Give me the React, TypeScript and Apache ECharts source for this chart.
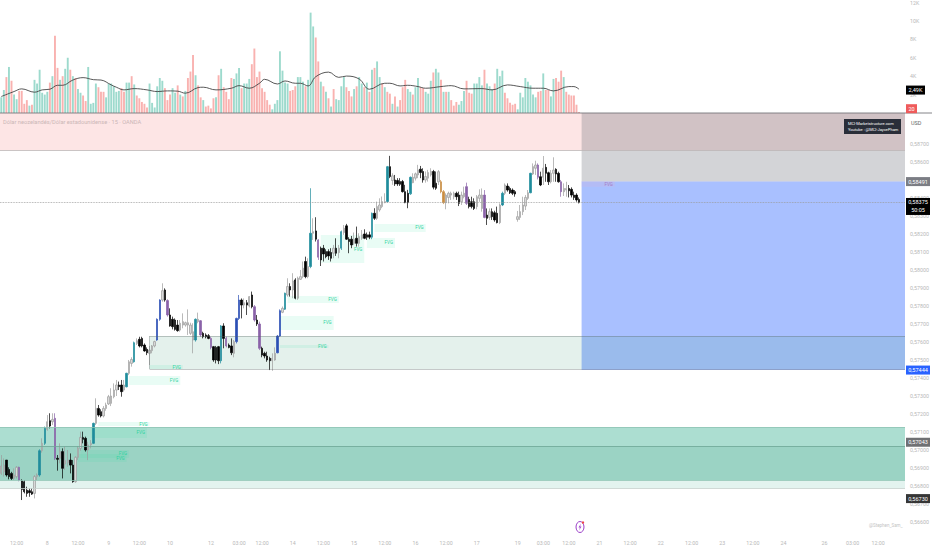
import React, { useEffect, useRef } from "react";
import * as echarts from "echarts";

// Prices are in units of 0.00001 (58700 = 0,58700). Volumes are in thousands.
const ohlc: number[][] = [
  [56870,56911,56861,56972],[56879,56916,56852,56953],[56944,56861,56852,56944],[56892,56852,56837,56904],[56870,56842,56833,56879],
  [56842,56861,56833,56898],[56852,56904,56842,56911],[56904,56833,56826,56907],[56829,56781,56722,56837],[56824,56768,56759,56833],
  [56777,56759,56740,56796],[56774,56763,56740,56787],[56768,56755,56750,56787],[56759,56852,56731,56861],[56852,56861,56833,56870],
  [56861,56996,56852,57004],[56996,57037,56985,57065],[57037,57120,57028,57130],[57115,57157,57107,57194],[57163,57133,57120,57204],
  [57157,57170,57139,57204],[57176,56954,56944,57204],[56954,56948,56885,56972],[56954,56991,56926,57037],[56991,56898,56842,57009],
  [56922,56941,56889,57018],[56929,56944,56907,57000],[56944,56916,56870,56981],[56916,56824,56818,56944],[56824,56959,56818,56966],
  [56959,57009,56944,57022],[57009,57070,56996,57102],[57070,57059,57037,57102],[57065,57000,56991,57074],[57000,57028,56944,57046],
  [57028,57037,57009,57055],[57037,57148,57033,57152],[57148,57231,57139,57287],[57231,57194,57185,57250],[57213,57189,57181,57226],
  [57189,57231,57181,57244],[57231,57250,57218,57263],[57256,57296,57250,57306],[57259,57300,57244,57343],[57296,57333,57287,57370],
  [57333,57361,57300,57389],[57361,57352,57333,57380],[57361,57324,57296,57389],[57333,57361,57324,57389],[57351,57426,57348,57429],
  [57426,57490,57416,57500],[57481,57503,57463,57515],[57490,57596,57485,57602],[57592,57607,57583,57620],[57615,57578,57570,57629],
  [57620,57578,57570,57629],[57583,57550,57546,57592],[57559,57540,57527,57570],[57537,57555,57472,57578],[57552,57578,57537,57583],
  [57578,57602,57570,57607],[57611,57726,57607,57731],[57726,57833,57718,57837],[57833,57885,57824,57926],[57889,57833,57824,57898],
  [57830,57750,57741,57837],[57750,57689,57685,57787],[57726,57685,57670,57741],[57722,57670,57663,57731],[57694,57663,57657,57722],
  [57666,57704,57657,57722],[57694,57713,57676,57759],[57694,57707,57685,57713],[57694,57707,57639,57781],[57648,57694,57639,57707],
  [57611,57657,57537,57704],[57611,57726,57602,57731],[57713,57726,57704,57763],[57718,57639,57629,57722],[57648,57629,57620,57657],
  [57639,57629,57620,57648],[57635,57620,57615,57644],[57620,57570,57559,57629],[57574,57500,57490,57578],[57570,57500,57481,57578],
  [57574,57496,57477,57578],[57496,57689,57481,57694],[57689,57620,57565,57704],[57620,57578,57570,57629],[57583,57570,57565,57592],
  [57578,57540,57527,57620],[57537,57602,57515,57611],[57602,57731,57592,57735],[57731,57833,57722,57861],[57833,57805,57731,57842],
  [57805,57818,57787,57842],[57818,57805,57750,57833],[57800,57852,57792,57855],[57861,57796,57787,57880],[57796,57722,57713,57805],
  [57722,57700,57689,57750],[57700,57565,57555,57713],[57565,57527,57515,57574],[57537,57522,57509,57546],[57522,57500,57490,57546],
  [57509,57496,57444,57518],[57496,57509,57440,57537],[57500,57537,57496,57570],[57540,57633,57537,57639],[57633,57774,57629,57781],
  [57765,57787,57760,57797],[57782,57871,57778,57874],[57861,57908,57852,57954],[57908,57889,57852,57926],[57889,57939,57843,57982],
  [57945,57843,57837,57954],[57843,57954,57834,57963],[57948,57963,57945,58000],[57963,58010,57954,58047],[58047,57963,57954,58074],
  [57963,58019,57954,58065],[58019,58204,58010,58454],[58204,58213,58167,58287],[58217,58171,58158,58293],[58167,58071,58056,58171],
  [58121,58056,58022,58130],[58121,58089,58047,58139],[58102,58074,58065,58115],[58102,58078,58056,58115],[58097,58065,58047,58121],
  [58093,58121,58065,58139],[58121,58093,58078,58176],[58097,58121,58065,58139],[58121,58213,58111,58219],[58208,58232,58195,58250],
  [58245,58171,58167,58256],[58171,58158,58093,58182],[58171,58139,58121,58189],[58148,58171,58139,58208],[58176,58148,58130,58241],
  [58148,58185,58130,58204],[58176,58195,58167,58222],[58200,58176,58171,58226],[58195,58182,58167,58208],[58195,58182,58171,58213],
  [58182,58315,58171,58319],[58315,58287,58278,58343],[58287,58352,58278,58380],[58334,58361,58324,58398],[58352,58380,58343,58408],
  [58374,58380,58371,58426],[58380,58574,58374,58578],[58574,58519,58510,58634],[58497,58523,58473,58537],[58500,58478,58467,58528],
  [58497,58478,58467,58510],[58491,58476,58467,58510],[58491,58435,58430,58500],[58435,58374,58371,58473],[58426,58374,58343,58445],
  [58423,58515,58417,58519],[58485,58515,58482,58537],[58510,58534,58497,58541],[58528,58556,58510,58584],[58560,58541,58510,58578],
  [58547,58500,58485,58565],[58500,58519,58485,58547],[58510,58541,58491,58556],[58528,58547,58519,58565],[58547,58460,58448,58556],
  [58482,58454,58445,58547],[58490,58546,58472,58555],[58490,58435,58426,58500],[58435,58374,58366,58444],[58374,58416,58337,58426],
  [58403,58426,58370,58435],[58416,58426,58389,58435],[58407,58426,58392,58435],[58426,58407,58389,58435],[58416,58370,58355,58435],
  [58379,58416,58361,58435],[58407,58426,58398,58463],[58463,58370,58361,58485],[58392,58352,58342,58407],[58379,58352,58342,58407],
  [58379,58342,58333,58398],[58352,58407,58337,58416],[58398,58416,58379,58448],[58342,58416,58324,58453],[58416,58292,58287,58444],
  [58305,58287,58250,58342],[58292,58324,58278,58342],[58324,58296,58278,58342],[58318,58278,58268,58329],[58315,58263,58259,58352],
  [58263,58361,58255,58370],[58361,58426,58355,58435],[58426,58472,58416,58481],[58466,58444,58435,58481],[58453,58429,58422,58463],
  [58444,58426,58416,58453],[58435,58422,58407,58444],[58281,58296,58268,58328],[58292,58324,58278,58361],[58324,58361,58305,58407],
  [58355,58403,58333,58416],[58398,58429,58389,58444],[58429,58537,58426,58540],[58533,58574,58528,58592],[58565,58583,58528,58607],
  [58583,58515,58503,58592],[58518,58472,58466,58546],[58515,58565,58472,58633],[58570,58537,58490,58589],[58540,58490,58472,58546],
  [58490,58537,58481,58555],[58537,58555,58490,58626],[58559,58533,58490,58565],[58537,58490,58485,58546],[58490,58435,58407,58500],
  [58435,58453,58411,58481],[58444,58453,58407,58490],[58453,58440,58403,58472],[58448,58416,58403,58459],[58416,58403,58389,58435],
  [58416,58389,58379,58426],[58392,58374,58370,58403],
];
const tealBars = [15, 17, 36, 49, 52, 76, 86, 111, 121, 133, 145, 151, 160, 196, 207];
const blueBars = [61, 62, 92, 93, 108, 109];
const purpleBars = [7, 21, 65, 78, 82, 88, 99, 101, 124, 182, 189, 210, 219];
const orangeBars = [172, 173];

const volumes = [
  1.7,2.5,3.9,5.0,3.5,2.0,1.5,2.4,2.4,1.0,
  1.4,0.8,0.9,3.6,3.2,4.7,2.2,2.0,2.3,3.3,
  4.0,8.4,4.9,3.6,4.0,4.8,6.0,4.7,4.0,3.8,
  2.6,2.2,1.9,1.3,5.0,1.0,1.1,3.2,2.8,2.3,
  2.3,1.7,3.2,3.2,2.9,2.3,2.4,2.7,2.3,3.3,
  3.3,4.0,3.1,1.9,1.6,1.2,1.0,0.6,3.2,1.1,
  0.6,2.9,3.8,3.5,2.7,1.4,2.0,2.7,2.2,3.0,
  2.0,1.8,2.4,3.8,4.5,6.3,4.1,3.0,1.7,1.4,
  0.7,0.8,0.5,1.6,1.7,4.1,4.8,2.8,2.3,1.5,
  3.8,3.7,4.3,4.9,2.7,3.2,3.2,3.7,5.3,7.0,
  3.9,4.5,2.7,2.3,1.4,0.9,0.4,1.0,1.4,6.7,
  4.6,3.3,3.2,2.4,2.5,2.9,3.9,3.9,3.4,2.9,
  3.6,10.9,9.4,8.2,5.6,3.4,2.9,2.3,1.6,0.7,
  2.6,1.5,1.4,2.9,3.9,2.8,2.4,1.8,2.6,2.9,
  3.9,3.2,2.8,3.3,2.3,4.7,4.9,5.6,3.9,3.2,
  2.8,2.3,2.1,1.0,1.8,0.7,1.4,2.8,3.6,2.6,
  2.3,2.0,2.8,3.8,2.8,2.7,2.3,2.1,3.5,4.4,
  4.8,4.4,3.6,2.3,2.3,2.3,1.4,0.8,1.2,0.9,
  1.3,2.4,3.5,2.2,2.1,3.2,3.2,3.9,3.0,4.7,
  3.2,2.9,2.6,3.2,4.8,4.0,4.6,2.2,1.6,1.1,
  0.9,1.0,0.4,2.2,1.7,3.8,3.4,3.0,2.0,1.7,
  2.3,2.4,4.3,2.5,2.5,1.8,3.7,3.8,3.4,4.6,
  3.9,2.3,2.0,1.9,1.9,0.9,0.1,
];
const volumeSides = [
  "GGRGRGGRRR","RGRGGGGGGR","GRRGRGGRGR","GGRRGGGGRR","RGGGGGGRRG","GRGRRRRRGG",
  "GGGGRRRGGR","GRGRRRGRRG","RRRRGRGRRR","RGGGRGGGRR","RRRRRRGGGG","GGGRRRGGGR",
  "GGGRRGRGRG","RGGGGRRRGR","GGRGRGRGGR","GRRGRGRRRG","GRGGRRGGGR","GGRGRGRRRG",
  "GGRRRGGGGR","GGGRGGGRRR","RRGGGGGGGG","RRGRRGGRRR","GRRRRRR",
].join("");
const volumeAverage: number[][] = [
  [0,1.79],[5,2.33],[8,2.62],[13,2.26],[16,2.51],[19,2.58],[22,3.01],[24,3.01],[28,3.58],[32,3.84],
  [36,3.62],[39,3.58],[43,3.05],[45,2.8],[48,2.51],[52,2.65],[57,2.51],[61,2.33],[65,2.4],[69,2.37],
  [72,2.15],[77,2.76],[79,2.8],[84,2.51],[90,2.69],[93,2.97],[97,2.69],[101,3.23],[103,3.66],[108,3.15],
  [111,3.48],[115,3.23],[117,3.23],[120,2.94],[123,3.94],[128,4.44],[132,3.87],[135,4.01],[140,3.69],[144,2.58],
  [150,3.23],[152,3.23],[156,2.94],[159,3.01],[163,2.87],[166,2.69],[172,2.87],[176,2.97],[181,2.62],[188,2.65],
  [192,2.51],[198,3.05],[203,2.87],[208,2.69],[212,2.69],[216,2.4],[222,2.87],[224,2.87],[226,2.58],
];

const slotCount = 354;
const tickSlots = [6,18,30,42,54,66,82,93,102,114,126,138,150,162,174,186,202,212,222,234,246,258,270,282,294,306,322,333,343];
const tickLabels = ["12:00","8","12:00","9","12:00","10","12","03:00","12:00","14","12:00","15","12:00","16","12:00","17","19","03:00","12:00","21","12:00","22","12:00","23","12:00","24","26","03:00","12:00"];

// [first slot, last slot, upper price, lower price]
const fvgBoxes: number[][] = [
  [109,130,57744,57667],[112,132,57855,57817],[125,142,58194,58039],[143,154,58178,58122],[146,166,58256,58211],
  [58,71,57472,57450],[50,70,57411,57361],[109,128,57583,57567],[38,58,57155,57133],[35,57,57128,57067],
  [31,50,57000,56956],[30,49,56978,56933],
];
const purpleFvg = [227, 240, 58491, 58463];
const projectionStart = 227;
const supplyZone = [58872, 58667];
const stopZone = [58872, 58491];
const targetZone = [58491, 57444];
const midZone = [58, 57633, 57450];
const demandOuter = [57128, 56789];
const demandMiddle = [57128, 56833];
const demandInner = [57022, 56833];
const currentPrice = 58375;
const zoneLines: [number, string][] = [
  [58667, "#bdb5b5"],[57128, "#8fc4b4"],[57022, "#6fa797"],[56833, "#8fc4b4"],[56789, "#c4cfcc"],
];
const priceTags: [number, string, string][] = [
  [58491, "0,58491", "#7b7d84"],[57444, "0,57444", "#2962ff"],[57043, "0,57043", "#6f7073"],[56730, "0,56730", "#363636"],
];
const title = "Dólar neozelandés/Dólar estadounidense · 15 · OANDA";
const credit = ["MCI-Marketstructure.com", "Youtube : @MCI-JaycePham"];
const author = "@Stephen_Sam_";
const FONT = "Roboto";

const GRAY_TEXT = "#b8b8b8";
const candleStyle = (c: string) => ({ color: c, color0: c, borderColor: c, borderColor0: c });

function candleData() {
  return ohlc.map((row, i) => {
    let itemStyle: any = undefined;
    if (tealBars.includes(i)) itemStyle = candleStyle("#1f8c9c");
    else if (blueBars.includes(i)) itemStyle = candleStyle("#2b4fb4");
    else if (purpleBars.includes(i)) itemStyle = candleStyle("#8a62a8");
    else if (orangeBars.includes(i)) itemStyle = candleStyle("#c98d42");
    return itemStyle ? { value: row, itemStyle } : { value: row };
  });
}

function band(top: number, bottom: number, color: string) {
  return [{ yAxis: top, itemStyle: { color } }, { yAxis: bottom }];
}
function rightBand(top: number, bottom: number, from: number, color: string) {
  return [{ xAxis: from, yAxis: top, itemStyle: { color } }, { x: 905, yAxis: bottom }];
}
function fvg(box: number[], fill: string, text: string) {
  return [
    {
      name: "FVG",
      xAxis: box[0],
      yAxis: box[2],
      itemStyle: { color: fill },
      label: { show: true, position: "insideRight", distance: 2, fontSize: 4.5, color: text, fontFamily: FONT, formatter: "FVG" },
    },
    { xAxis: box[1], yAxis: box[3] },
  ];
}

export default function App() {
  const ref = useRef<HTMLDivElement>(null);
  useEffect(() => {
    const chart = echarts.init(ref.current!, undefined, { renderer: "svg", width: 932, height: 550 });
    const cats = Array.from({ length: slotCount }, (_, i) => String(i));
    const xShared = {
      type: "category",
      data: cats,
      boundaryGap: true,
      axisLine: { show: false },
      axisTick: { show: false },
      splitLine: { show: false },
    };
    const midLineStyle = { color: "rgba(90,100,100,0.5)", type: "solid", width: 0.7 };
    chart.setOption({
      animation: false,
      backgroundColor: "#ffffff",
      grid: [
        { left: 0, top: 0, width: 905, height: 113, containLabel: false },
        { left: 0, top: 113, width: 905, height: 427, containLabel: false },
      ],
      xAxis: [
        { ...xShared, gridIndex: 0, axisLabel: { show: false } },
        {
          ...xShared,
          gridIndex: 1,
          axisLabel: {
            show: true,
            margin: 0,
            fontSize: 5.3,
            color: GRAY_TEXT,
            fontFamily: FONT,
            interval: (i: number) => tickSlots.includes(i),
            formatter: (_: string, i: number) => tickLabels[tickSlots.indexOf(i)] ?? "",
          },
        },
      ],
      yAxis: [
        {
          type: "value",
          gridIndex: 0,
          position: "right",
          offset: 4,
          min: 0,
          max: 12.15,
          interval: 2,
          axisLine: { show: false },
          axisTick: { show: false },
          splitLine: { show: false },
          axisLabel: {
            margin: 1,
            fontSize: 5.3,
            color: GRAY_TEXT,
            fontFamily: FONT,
            formatter: (v: number) => (v === 0 || v > 12 ? "" : v + "K"),
          },
        },
        {
          type: "value",
          gridIndex: 1,
          position: "right",
          offset: 4,
          min: 56500,
          max: 58872,
          interval: 100,
          axisLine: { show: false },
          axisTick: { show: false },
          splitLine: { show: false },
          axisLabel: {
            margin: 1,
            fontSize: 5.3,
            color: GRAY_TEXT,
            fontFamily: FONT,
            formatter: (v: number) => (v < 56600 || v > 58700 ? "" : "0," + v),
          },
        },
      ],
      series: [
        {
          type: "bar",
          xAxisIndex: 0,
          yAxisIndex: 0,
          barWidth: 1.9,
          silent: true,
          data: volumes.map((v, i) => ({
            value: v,
            itemStyle: { color: volumeSides[i] === "G" ? "#9ddacd" : "#f9b2b0" },
          })),
        },
        {
          type: "line",
          xAxisIndex: 0,
          yAxisIndex: 0,
          data: volumeAverage,
          smooth: 0.4,
          showSymbol: false,
          symbol: "none",
          silent: true,
          z: 3,
          lineStyle: { color: "#454545", width: 0.9 },
        },
        {
          type: "candlestick",
          xAxisIndex: 1,
          yAxisIndex: 1,
          barWidth: 1.9,
          silent: true,
          itemStyle: {
            color: "#d9d9d9",
            color0: "#000000",
            borderColor: "#9c9c9c",
            borderColor0: "#000000",
            borderWidth: 0.7,
          },
          data: candleData(),
          markArea: {
            silent: true,
            label: { show: false },
            data: [
              band(supplyZone[0], supplyZone[1], "#fde5e5"),
              rightBand(stopZone[0], stopZone[1], projectionStart, "rgba(120,123,134,0.33)"),
              rightBand(targetZone[0], targetZone[1], projectionStart, "rgba(41,98,255,0.4)"),
              [
                { xAxis: midZone[0], yAxis: midZone[1], itemStyle: { color: "rgba(76,160,130,0.15)" } },
                { x: 905, yAxis: midZone[2] },
              ],
              band(demandOuter[0], demandOuter[1], "rgba(80,180,155,0.16)"),
              band(demandMiddle[0], demandMiddle[1], "rgba(60,180,150,0.33)"),
              band(demandInner[0], demandInner[1], "rgba(60,150,130,0.15)"),
              ...fvgBoxes.map((b) => fvg(b, "rgba(40,230,160,0.1)", "#2fd3a0")),
              fvg(purpleFvg, "rgba(240,170,190,0.16)", "#a57bc4"),
            ],
          },
          markLine: {
            silent: true,
            symbol: "none",
            animation: false,
            label: { show: false },
            data: [
              { yAxis: currentPrice, lineStyle: { color: "#9a9a9a", type: "dotted", width: 0.8 } },
              ...zoneLines.map(([p, c]) => ({ yAxis: p, lineStyle: { color: c, type: "solid", width: 0.8 } })),
              [{ xAxis: midZone[0], yAxis: midZone[1], lineStyle: midLineStyle }, { x: 905, yAxis: midZone[1] }],
              [{ xAxis: midZone[0], yAxis: midZone[2], lineStyle: midLineStyle }, { x: 905, yAxis: midZone[2] }],
              [{ xAxis: midZone[0], yAxis: midZone[1], lineStyle: midLineStyle }, { xAxis: midZone[0], yAxis: midZone[2] }],
            ],
          },
        },
      ],
    });

    const priceY = (p: number) => chart.convertToPixel({ yAxisIndex: 1 }, p) as number;
    const volY = (v: number) => chart.convertToPixel({ yAxisIndex: 0 }, v) as number;
    const tag = (y: number, text: string, color: string, w = 24) => [
      { type: "rect", z: 100, silent: true, shape: { x: 906, y: y - 4.5, width: w, height: 9 }, style: { fill: color } },
      { type: "text", z: 101, silent: true, x: 906 + w / 2, y, style: { text, fill: "#fff", fontSize: 5.5, fontFamily: FONT, align: "center", verticalAlign: "middle" } },
    ];
    const tags = priceTags.flatMap(([p, t, c]) => tag(priceY(p), t, c));
    const curY = priceY(currentPrice);
    chart.setOption({
      graphic: [
        { type: "line", z: 90, silent: true, shape: { x1: 0, y1: 113, x2: 932, y2: 113 }, style: { stroke: "#77777c", lineWidth: 0.9 } },
        { type: "text", z: 90, silent: true, x: 3, y: 122, style: { text: title, fill: "#cbb7b7", fontSize: 5.7, fontFamily: FONT, verticalAlign: "middle" } },
        { type: "text", z: 90, silent: true, x: 911, y: 123, style: { text: "USD", fill: "#666", fontSize: 5.5, fontFamily: FONT, verticalAlign: "middle" } },
        { type: "rect", z: 90, silent: true, shape: { x: 844, y: 119, width: 57, height: 15 }, style: { fill: "#2a2e39" } },
        { type: "text", z: 91, silent: true, x: 848, y: 123.5, style: { text: credit[0], fill: "#fff", fontSize: 4, fontFamily: FONT, verticalAlign: "middle" } },
        { type: "text", z: 91, silent: true, x: 848, y: 129.5, style: { text: credit[1], fill: "#fff", fontSize: 4, fontFamily: FONT, verticalAlign: "middle" } },
        ...tag(volY(2.49), "2,49K", "#000000", 19),
        ...tag(108.7, "20", "#ef5b5b", 11),
        ...tags,
        { type: "rect", z: 100, silent: true, shape: { x: 906, y: curY - 4.5, width: 24, height: 17 }, style: { fill: "#000" } },
        { type: "text", z: 101, silent: true, x: 918, y: curY, style: { text: "0,58375", fill: "#fff", fontSize: 5.5, fontFamily: FONT, align: "center", verticalAlign: "middle" } },
        { type: "text", z: 101, silent: true, x: 918, y: curY + 8, style: { text: "50:05", fill: "#fff", fontSize: 5.5, fontFamily: FONT, align: "center", verticalAlign: "middle" } },
        { type: "text", z: 90, silent: true, x: 869, y: 525, style: { text: author, fill: "#c4c4c4", fontSize: 4.5, fontFamily: FONT, verticalAlign: "middle" } },
        { type: "ellipse", z: 90, silent: true, shape: { cx: 580, cy: 527, rx: 4, ry: 5.5 }, style: { fill: "#fff", stroke: "#9c3fc9", lineWidth: 1 } },
        { type: "polygon", z: 91, silent: true, shape: { points: [[581, 523.5], [578.5, 527.5], [580, 527.5], [579, 530.5], [581.5, 526.5], [580, 526.5]] }, style: { fill: "#9c3fc9" } },
        { type: "circle", z: 91, silent: true, shape: { cx: 583, cy: 522.5, r: 1.2 }, style: { fill: "#ef4444" } },
      ],
    });
    return () => chart.dispose();
  }, []);
  return <div ref={ref} style={{ position: "fixed", left: 0, top: 0, width: 932, height: 550, background: "#fff" }} />;
}
